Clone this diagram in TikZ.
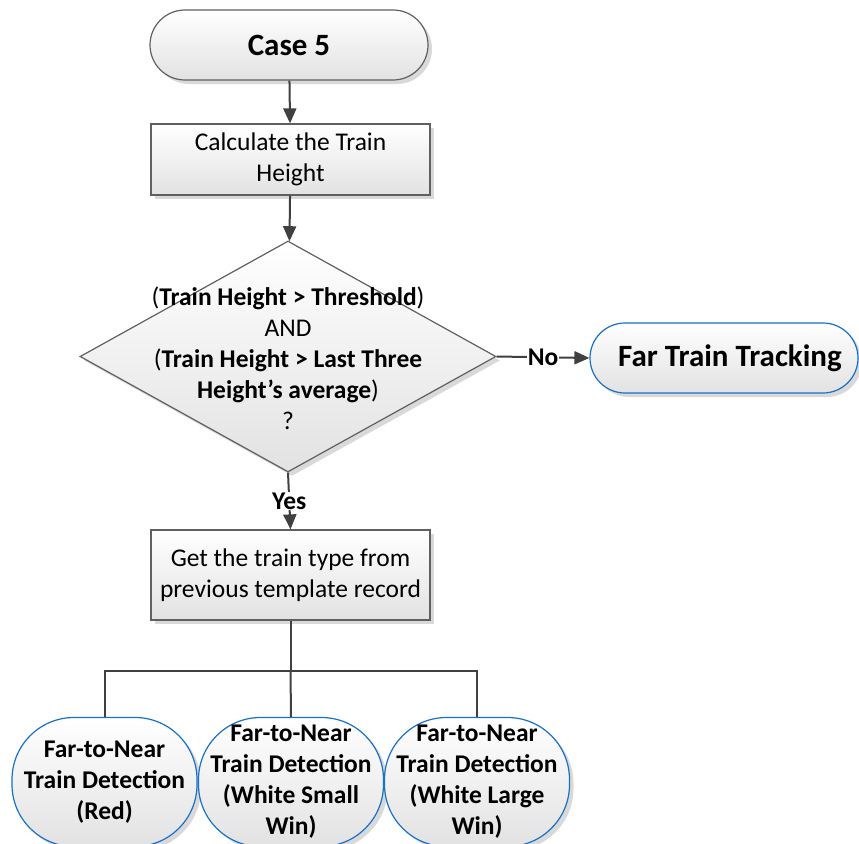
\documentclass[tikz,border=0pt]{standalone}
\usepackage{fontspec}
\setmainfont{Carlito}
\usetikzlibrary{shapes.geometric,shadows,arrows.meta}

\definecolor{boxline}{RGB}{96,96,96}
\definecolor{fillgray}{RGB}{226,226,226}
\definecolor{termblue}{RGB}{24,112,200}
\definecolor{conn}{RGB}{64,64,64}

\begin{document}
\begin{tikzpicture}[x=1pt,y=-1pt,
  every node/.style={align=center, inner sep=0pt},
  txt/.style={font=\fontsize{25.5}{31}\selectfont},
  boldtxt/.style={font=\bfseries\fontsize{25.5}{31}\selectfont},
  bigtxt/.style={font=\bfseries\fontsize{31}{36}\selectfont},
  soft/.style={top color=white, bottom color=fillgray,
    drop shadow={shadow xshift=4pt, shadow yshift=-4pt, fill=black!25, opacity=.6}},
  flowbox/.style={soft, rectangle, draw=boxline, line width=1.2pt},
  terminal/.style={soft, rectangle, rounded corners=35pt, line width=1.2pt},
  decision/.style={soft, diamond, draw=boxline, line width=1.2pt},
  outcome/.style={soft, rectangle, rounded corners=62pt, draw=termblue, line width=1.2pt},
  link/.style={draw=conn, line width=2pt},
  arrowlink/.style={link, -{Triangle[length=15pt, width=13pt]}},
  edgelabel/.style={boldtxt, fill=white, inner sep=1pt}
]
\useasboundingbox (0,0) rectangle (859,843);
\clip (0,0) rectangle (859,843);

% main column
\node[terminal, draw=boxline, minimum width=278pt, minimum height=70pt, bigtxt]
  (case5) at (289,45) {Case 5};
\node[flowbox, minimum width=279pt, minimum height=71pt, txt]
  (calc) at (290.5,159.5) {Calculate the Train\\Height};
\node[decision, minimum width=416pt, minimum height=231pt]
  (dec) at (288,356.5) {};
\node[txt] (dectext) at (288,358)
  {(\textbf{Train Height > Threshold})\\AND\\(\textbf{Train Height > Last Three}\\\textbf{Height’s average})\\?};
\node[terminal, draw=termblue, minimum width=268pt, minimum height=70pt, bigtxt]
  (far) at (724,358) {\hspace*{12pt}Far Train Tracking};
\node[flowbox, minimum width=279pt, minimum height=90pt, txt]
  (get) at (290.5,575) {Get the train type from\\previous template record};

% detection variants
\node[outcome, minimum width=185pt, minimum height=129pt, boldtxt]
  (red) at (104.5,782) {Far-to-Near\\Train Detection\\(Red)};
\node[outcome, minimum width=185pt, minimum height=129pt, boldtxt]
  (small) at (291,782) {Far-to-Near\\Train Detection\\(White Small\\Win)};
\node[outcome, minimum width=185pt, minimum height=129pt, boldtxt]
  (large) at (477,782) {Far-to-Near\\Train Detection\\(White Large\\Win)};

% connectors
\draw[arrowlink] (case5) -- (calc);
\draw[arrowlink] (calc) -- (dec);
\draw[arrowlink] (dec.east) -- node[edgelabel] {No} (far.west);
\draw[arrowlink] (dec.south) -- node[edgelabel] {Yes} (get.north);
\draw[link] (get.south) -- ++(0,50) coordinate (branch);
\draw[link] (red.north) |- (branch) -| (large.north);
\draw[link] (branch) -- (small.north);
\end{tikzpicture}
\end{document}
